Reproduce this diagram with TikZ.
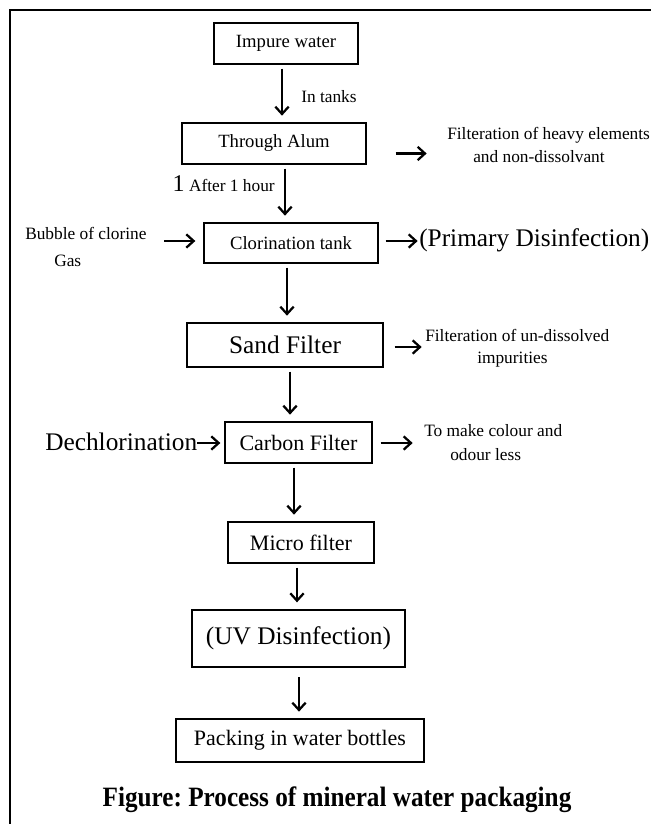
\documentclass[tikz,border=0pt]{standalone}
\usepackage{fontspec}
\setmainfont{Liberation Serif}
\frenchspacing
\usetikzlibrary{calc, positioning}
\usetikzlibrary{arrows.meta}

\tikzset{
  stage/.style={draw, line width=1pt, inner sep=0pt, font=\fontsize{14}{16}\selectfont},
  note/.style={anchor=west, inner sep=0pt, font=\fontsize{13}{15}\selectfont},
  arr/.style={line width=1.7pt, -{Straight Barb[length=5.5pt, width=10pt, line width=1.7pt]}},
  varr/.style={arr, shorten <=3pt, shorten >=5pt}
}

\begin{document}
\begin{tikzpicture}[x=0.75pt, y=-0.75pt]
\useasboundingbox (0,0) rectangle (651,824);
% frame
\draw[line width=2pt] (10,824) -- (10,10) -- (651,10);

% stages
\node[stage, minimum width=108pt, minimum height=30.75pt] (imp) at (286,43.5) {Impure water};
\node[stage, minimum width=138pt, minimum height=30.75pt] (alum) at (274,143.5) {Through Alum};
\node[stage, minimum width=130.5pt, minimum height=30pt] (clor) at (291,243) {Clorination tank};
\node[stage, minimum width=147pt, minimum height=33pt, font=\fontsize{19}{21}\selectfont] (sand) at (285,345) {Sand Filter};
\node[stage, minimum width=110.25pt, minimum height=30.75pt, font=\fontsize{16.5}{18}\selectfont] (carb) at (298.5,442.5) {Carbon Filter};
\node[stage, minimum width=109.5pt, minimum height=30.75pt, font=\fontsize{16.5}{18}\selectfont] (micro) at (301,542.5) {Micro filter};
\node[stage, line width=1.5pt, minimum width=159.75pt, minimum height=42.75pt, font=\fontsize{19}{21}\selectfont] (uv) at (298.5,638.5) {(UV Disinfection)};
\node[stage, minimum width=186pt, minimum height=32.25pt, font=\fontsize{16.5}{18}\selectfont] (pack) at (300,740.5) {Packing in water bottles};

% side notes
\node[note] (tanks) at (301,97) {In tanks};
\node[note] (heavy) at (447,135) {Filteration of heavy elements};
\node[note] (nondis) at (473,157) {and non-dissolvant};
\node[note, anchor=east] (hour) at (275,184) {{\fontsize{18}{20}\selectfont 1} After 1 hour};
\node[note] (bubble) at (25,233) {Bubble of clorine};
\node[note] (gas) at (54,261) {Gas};
\node[note, font=\fontsize{19}{21}\selectfont] (primary) at (419,240) {(Primary Disinfection)};
\node[note] (undis) at (425,335) {Filteration of un-dissolved};
\node[note] (impur) at (477,360) {impurities};
\node[note, font=\fontsize{19}{21}\selectfont] (dechl) at (45,442) {Dechlorination};
\node[note] (colour) at (424,431) {To make colour and};
\node[note] (odour) at (450,455) {odour less};

% flow
\draw[varr] (imp.south -| 282,0) -- (alum.north -| 282,0);
\draw[varr] (alum.south -| 285,0) -- (clor.north -| 285,0);
\draw[varr] (clor.south -| 287,0) -- (sand.north -| 287,0);
\draw[varr] (sand.south -| 290,0) -- (carb.north -| 290,0);
\draw[varr] (carb.south -| 294,0) -- (micro.north -| 294,0);
\draw[varr] (micro.south -| 297,0) -- (uv.north -| 297,0);
\draw[varr, shorten <=7pt] (uv.south -| 299,0) -- (pack.north -| 299,0);

% side arrows
\draw[arr] ($(alum.east)+(29,10)$) -- ++(31,0);
\draw[arr] ($(clor.west)+(-39,-2)$) -- ++(31,0);
\draw[arr] ($(clor.east)+(7,-2)$) -- ++(32,0);
\draw[arr] ($(sand.east)+(11,2)$) -- ++(27,0);
\draw[arr] ($(carb.west)+(-27,0.5)$) -- ++(23,0);
\draw[arr] ($(carb.east)+(8,0.5)$) -- ++(32,0);

% caption
\node[font=\fontsize{21}{23}\bfseries\selectfont] (title) at (337,800) {\scalebox{0.9}[1]{Figure: Process of mineral water packaging}};
\end{tikzpicture}
\end{document}
